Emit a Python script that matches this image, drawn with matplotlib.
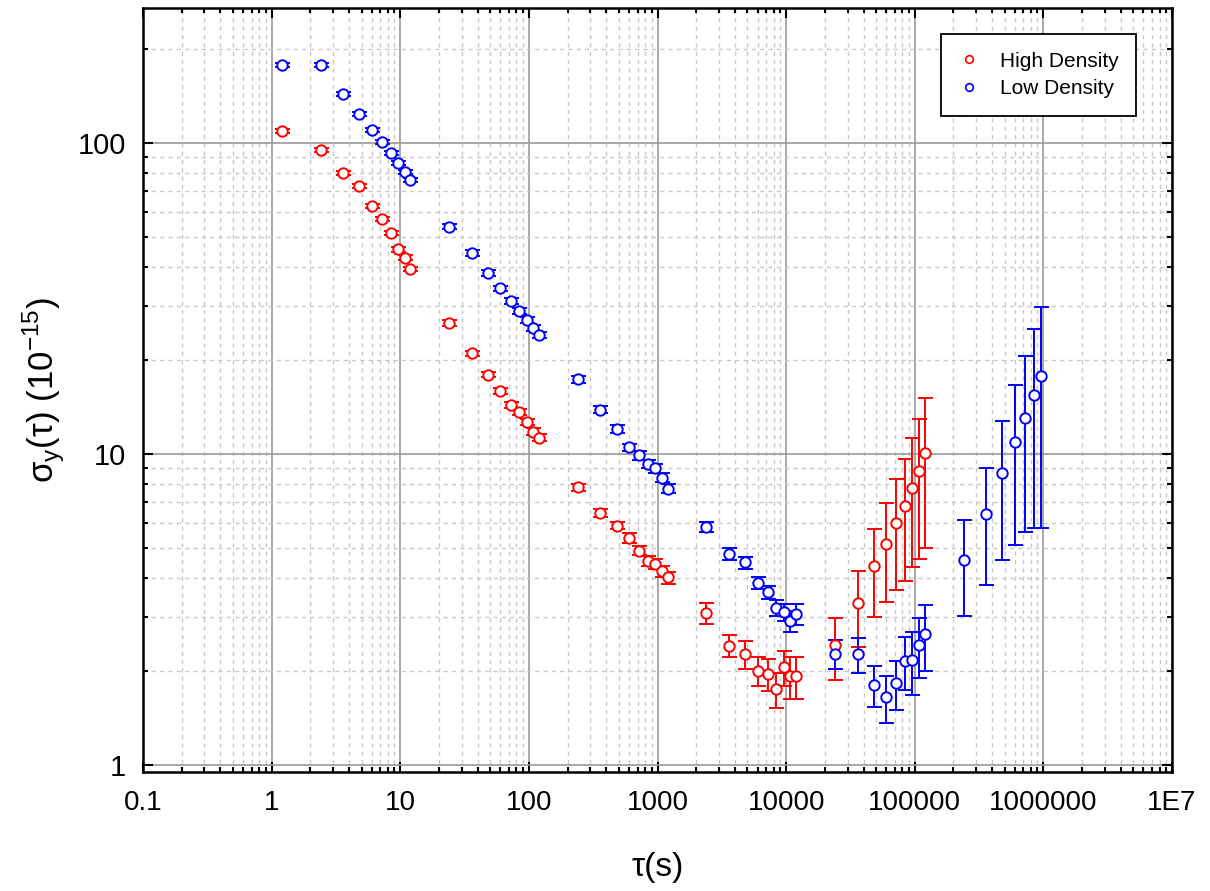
import numpy as np
import matplotlib
matplotlib.use('Agg')
import matplotlib.pyplot as plt
from matplotlib.lines import Line2D
from matplotlib.ticker import LogLocator, NullFormatter

plt.rcParams['font.family'] = ['Liberation Sans', 'DejaVu Sans']
plt.rcParams['mathtext.fontset'] = 'custom'
plt.rcParams['mathtext.rm'] = 'Liberation Sans'

# averaging times (s)
tau_high = [1.2, 2.4, 3.6, 4.8, 6, 7.2, 8.4, 9.6, 10.8, 12,
            24, 36, 48, 60, 72, 84, 96, 108, 120,
            240, 360, 480, 600, 720, 840, 960, 1080, 1200,
            2400, 3600, 4800, 6000, 7200, 8400, 9600, 10800, 12000,
            24000, 36000, 48000, 60000, 72000, 84000, 96000, 108000, 120000]
tau_low = tau_high + [240000, 360000, 480000, 600000, 720000, 840000, 960000]

# Allan deviation (1e-15) and error bars
sig_high = [109.5, 94.9, 80.2, 72.9, 62.8, 57.0, 51.3, 45.5, 42.8, 39.4,
            26.4, 21.1, 18.0, 15.9, 14.4, 13.7, 12.7, 11.8, 11.3,
            7.82, 6.47, 5.89, 5.36, 4.89, 4.54, 4.43, 4.2, 4.01,
            3.09, 2.42, 2.27, 2.01, 1.96, 1.75, 2.06, 1.93, 1.93,
            2.43, 3.31, 4.37, 5.15, 5.99, 6.79, 7.78, 8.81, 10.09]
err_high = [1.5, 1.3, 1.1, 1.0, 0.9, 0.8, 0.8, 0.7, 0.7, 0.6,
            0.5, 0.4, 0.35, 0.35, 0.3, 0.3, 0.3, 0.3, 0.3,
            0.2, 0.18, 0.17, 0.2, 0.16, 0.16, 0.17, 0.17, 0.18,
            0.24, 0.2, 0.23, 0.21, 0.23, 0.23, 0.27, 0.3, 0.3,
            0.55, 0.91, 1.38, 1.8, 2.33, 2.87, 3.45, 4.2, 5.1]

sig_low = [178, 178, 143.5, 124, 109.9, 101, 93.1, 86.0, 80.8, 76.0,
           53.8, 44.3, 38.2, 34.1, 31.0, 28.8, 27.0, 25.4, 24.1,
           17.4, 13.9, 12.05, 10.5, 9.9, 9.3, 9.0, 8.4, 7.74,
           5.84, 4.77, 4.48, 3.84, 3.59, 3.2, 3.1, 2.9, 3.05,
           2.28, 2.27, 1.81, 1.65, 1.83, 2.16, 2.18, 2.43, 2.64,
           4.57, 6.42, 8.67, 10.9, 13.1, 15.5, 17.8]
err_low = [2.5, 2.5, 2.0, 1.8, 1.6, 1.5, 1.4, 1.3, 1.2, 1.2,
           1.0, 0.9, 0.8, 0.7, 0.65, 0.6, 0.6, 0.55, 0.55,
           0.45, 0.38, 0.34, 0.3, 0.3, 0.28, 0.28, 0.28, 0.26,
           0.22, 0.2, 0.2, 0.17, 0.18, 0.19, 0.2, 0.22, 0.24,
           0.25, 0.3, 0.27, 0.28, 0.33, 0.42, 0.5, 0.53, 0.63,
           1.55, 2.63, 4.1, 5.8, 7.5, 9.7, 12.0]

xtick_vals = [0.1, 1, 10, 100, 1000, 10000, 100000, 1000000, 1e7]
xtick_labels = ['0.1', '1', '10', '100', '1000', '10000', '100000', '1000000', '1E7']
ytick_vals = [1, 10, 100]
ytick_labels = ['1', '10', '100']

fig = plt.figure(figsize=(12.1, 8.91), dpi=100)
ax = fig.add_axes([0.1182, 0.1336, 0.8504, 0.8575])
ax.set_xscale('log')
ax.set_yscale('log')

style = dict(fmt='o', ms=7.5, mfc='white', mew=1.4, elinewidth=1.4,
             capsize=5.4, capthick=1.4, zorder=3)
ax.errorbar(tau_high, sig_high, yerr=err_high, color='#ff0000', mec='#ff0000', **style)
ax.errorbar(tau_low, sig_low, yerr=err_low, color='#0000ff', mec='#0000ff', **style)

ax.set_xlim(0.1, 1e7)
ax.set_ylim(0.95, 272)

ax.set_xticks(xtick_vals)
ax.set_xticklabels(xtick_labels)
ax.set_yticks(ytick_vals)
ax.set_yticklabels(ytick_labels)
ax.xaxis.set_minor_locator(LogLocator(base=10, subs=np.arange(2, 10), numticks=20))
ax.yaxis.set_minor_locator(LogLocator(base=10, subs=np.arange(2, 10), numticks=20))
ax.xaxis.set_minor_formatter(NullFormatter())
ax.yaxis.set_minor_formatter(NullFormatter())

ax.tick_params(which='both', direction='in', top=True, right=True, width=1.5, color='black')
ax.tick_params(which='major', length=7, labelsize=20)
ax.tick_params(which='minor', length=3.5)
ax.tick_params(axis='x', which='major', pad=13)
ax.tick_params(axis='y', which='major', pad=12, labelsize=21)

ax.grid(which='major', color='#9a9a9a', linewidth=1.2, linestyle='-', zorder=0)
ax.grid(which='minor', color='#c8c8c8', linewidth=1.0, linestyle=(0, (3, 3)), zorder=0)
ax.set_axisbelow(True)
for sp in ax.spines.values():
    sp.set_linewidth(1.8)

ax.set_xlabel('τ(s)', fontsize=24, labelpad=26)
ax.set_ylabel('σ$_\\mathregular{y}$(τ) (10$^\\mathregular{-15}$)', fontsize=25, labelpad=8)

handles = [Line2D([], [], ls='none', marker='o', ms=5.5, mfc='white', mec='#ff0000', mew=1.2),
           Line2D([], [], ls='none', marker='o', ms=5.5, mfc='white', mec='#0000ff', mew=1.2)]
leg = ax.legend(handles, ['High Density', 'Low Density'], loc='upper right',
                bbox_to_anchor=(0.965, 0.966), borderaxespad=0, fontsize=15,
                fancybox=False, framealpha=1, edgecolor='black',
                handlelength=1.0, handletextpad=0.95, borderpad=0.85,
                labelspacing=0.4)
leg.get_frame().set_linewidth(1.3)

fig.savefig('out.png', dpi=100)
plt.close(fig)
